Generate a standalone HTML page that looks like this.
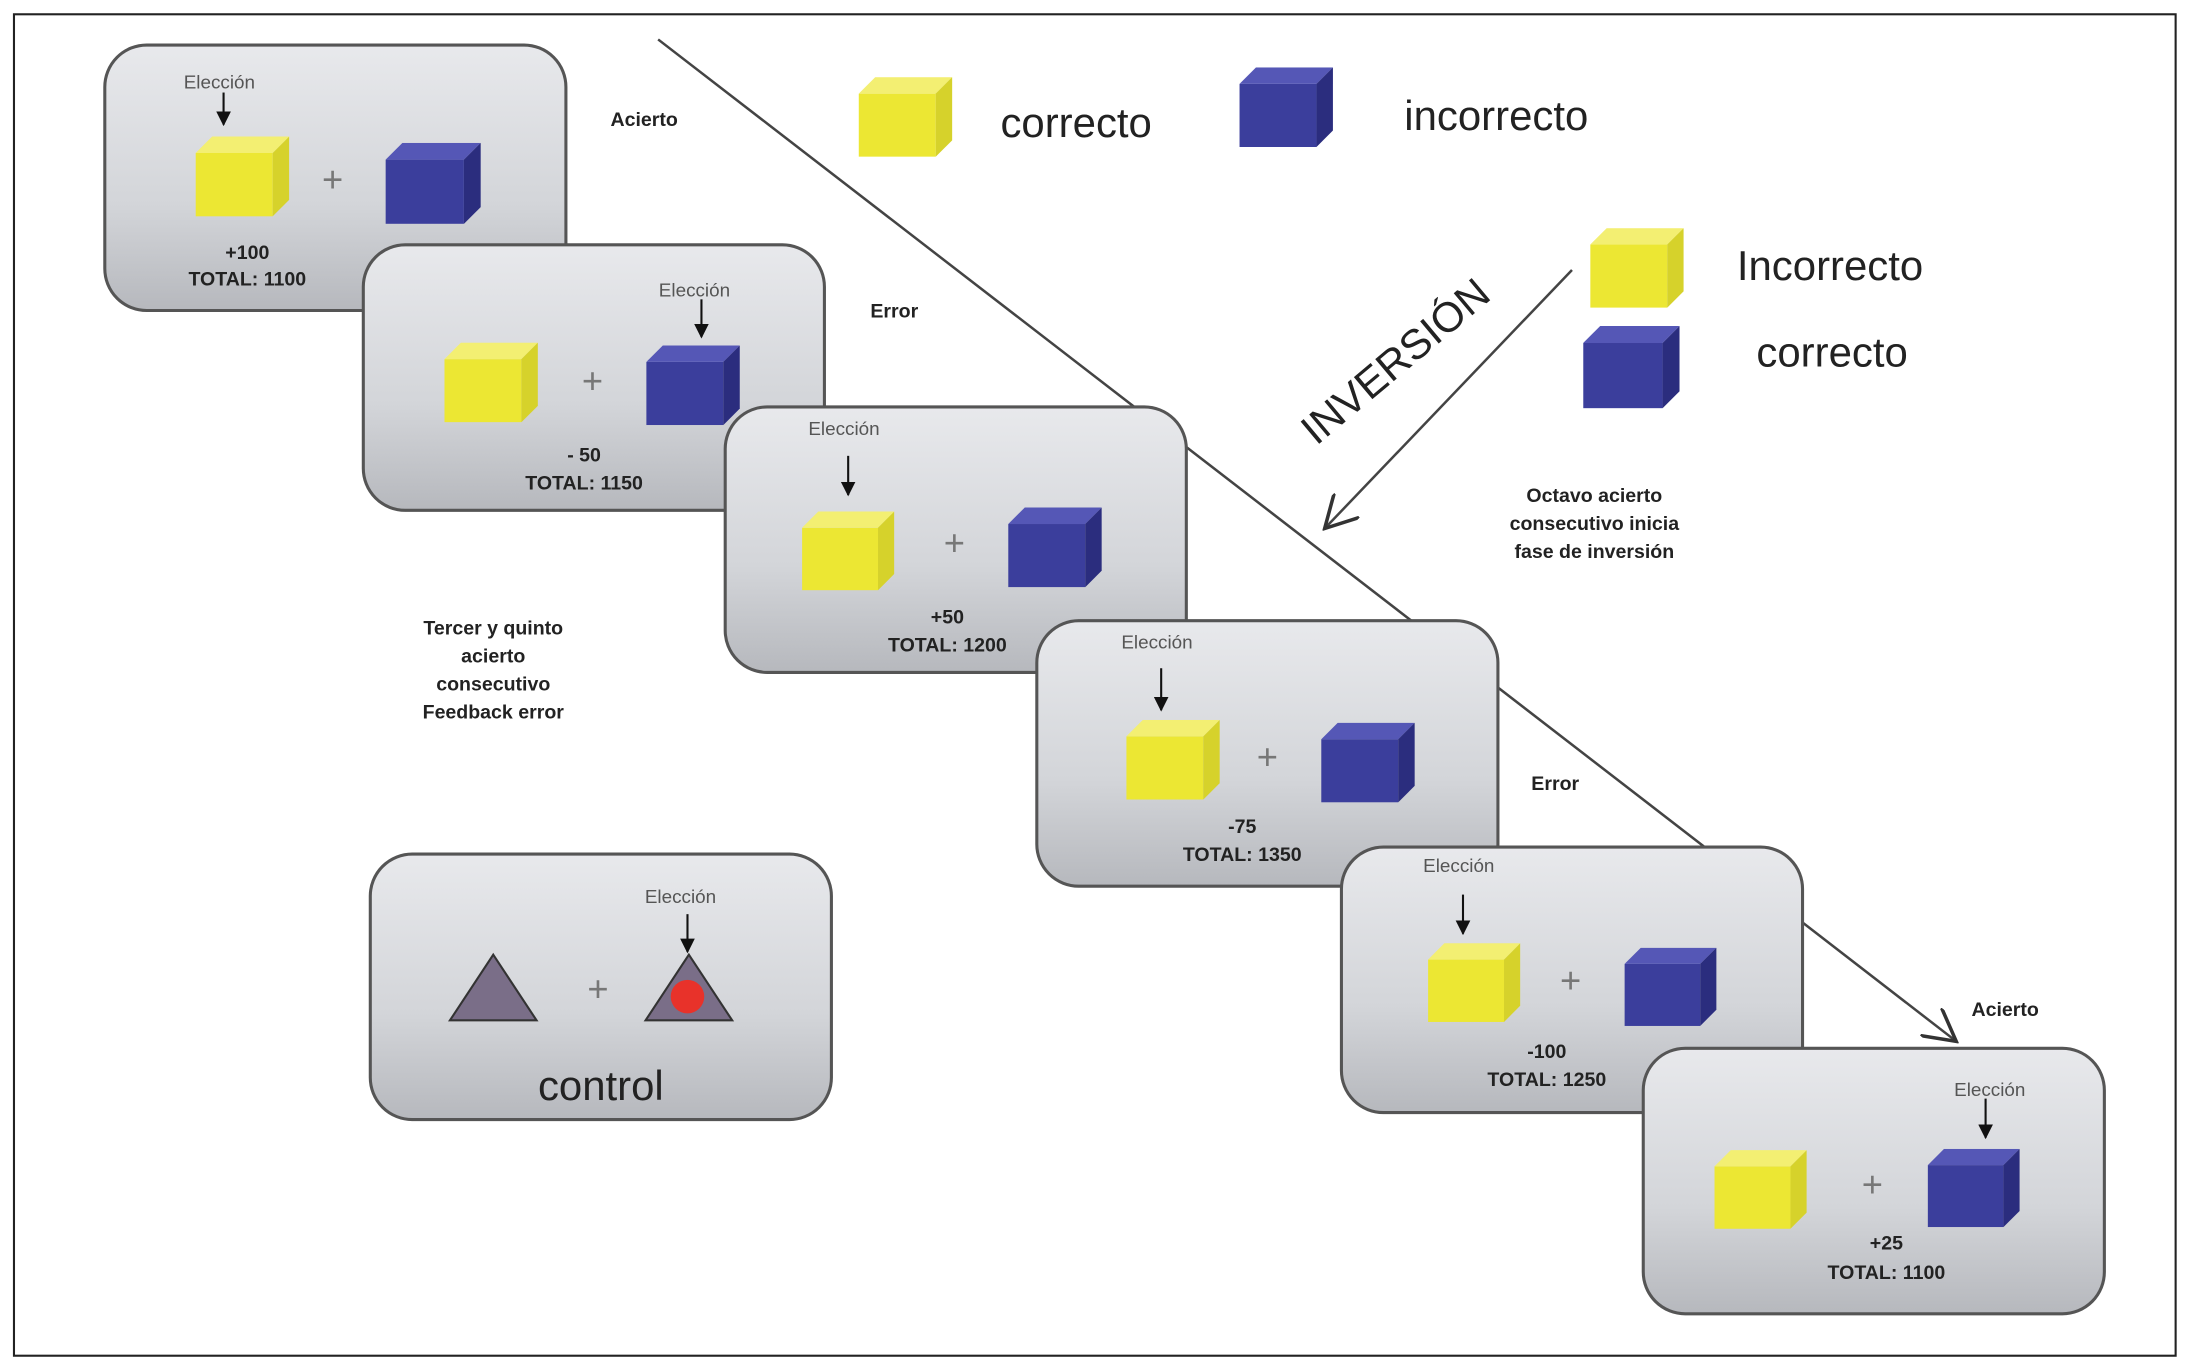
<!DOCTYPE html>
<html><head><meta charset="utf-8"><style>
html,body{margin:0;padding:0;background:#fff}
svg{display:block}
text{font-family:"Liberation Sans",Arial,sans-serif}
.b{font-weight:bold;font-size:14px;fill:#222;text-anchor:middle}
.e{font-size:13.5px;fill:#555;text-anchor:middle}
.p{font-size:26px;fill:#777;text-anchor:middle}
.big{font-size:30px;fill:#222}
</style></head><body>
<svg width="2191" height="1370" viewBox="0 0 1568 980" xmlns="http://www.w3.org/2000/svg">
<defs>
<linearGradient id="g" x1="0" y1="0" x2="0" y2="1">
<stop offset="0" stop-color="#e8e9ec"/><stop offset="0.6" stop-color="#d3d5d9"/><stop offset="1" stop-color="#b6b8bd"/></linearGradient>
<symbol id="yc" viewBox="0 0 68 58"><rect x="0" y="12" width="56" height="46" fill="#ece733"/><polygon points="0,12 12,0 68,0 56,12" fill="#f3ef72"/><polygon points="56,12 68,0 68,46 56,58" fill="#d6d22b"/></symbol>
<symbol id="bc" viewBox="0 0 68 58"><rect x="0" y="12" width="56" height="46" fill="#3b3e9c"/><polygon points="0,12 12,0 68,0 56,12" fill="#5557b6"/><polygon points="56,12 68,0 68,46 56,58" fill="#2b2d7e"/></symbol>
<marker id="ah" viewBox="0 0 10 10" refX="9" refY="5" markerWidth="7" markerHeight="7" orient="auto"><path d="M0,0 L10,5 L0,10 z" fill="#111"/></marker>
<marker id="ao" viewBox="0 0 12 12" refX="11" refY="6" markerWidth="14" markerHeight="14" orient="auto"><path d="M0,0 L11,6 L0,12" fill="none" stroke="#333" stroke-width="1.2"/></marker>
</defs>
<rect x="10" y="10" width="1547" height="960" fill="#fff" stroke="#222" stroke-width="1.5"/>
<line x1="471" y1="28" x2="1220" y2="606" stroke="#444" stroke-width="1.8"/>
<line x1="1290" y1="660" x2="1400" y2="745" stroke="#444" stroke-width="1.8" marker-end="url(#ao)"/>

<!-- box1 -->
<rect x="75" y="32" width="330" height="190" rx="30" fill="url(#g)" stroke="#555" stroke-width="2.2"/>
<text x="157" y="63" class="e">Elección</text><line x1="160" y1="66" x2="160" y2="89" stroke="#111" stroke-width="1.5" marker-end="url(#ah)"/>
<use href="#yc" x="140" y="97" width="67" height="58"/><text x="238" y="137" class="p">+</text><use href="#bc" x="275" y="102" width="70" height="58"/>
<text x="177" y="185" class="b">+100</text><text x="177" y="204" class="b">TOTAL: 1100</text>
<text x="461" y="90" class="b">Acierto</text>

<!-- box2 -->
<rect x="260" y="175" width="330" height="190" rx="30" fill="url(#g)" stroke="#555" stroke-width="2.2"/>
<text x="497" y="212" class="e">Elección</text><line x1="502" y1="214" x2="502" y2="241" stroke="#111" stroke-width="1.5" marker-end="url(#ah)"/>
<use href="#yc" x="318" y="245" width="67" height="57"/><text x="424" y="281" class="p">+</text><use href="#bc" x="462" y="247" width="68" height="57"/>
<text x="418" y="330" class="b">- 50</text><text x="418" y="350" class="b">TOTAL: 1150</text>
<text x="640" y="227" class="b">Error</text>

<!-- box3 -->
<rect x="519" y="291" width="330" height="190" rx="30" fill="url(#g)" stroke="#555" stroke-width="2.2"/>
<text x="604" y="311" class="e">Elección</text><line x1="607" y1="326" x2="607" y2="354" stroke="#111" stroke-width="1.5" marker-end="url(#ah)"/>
<use href="#yc" x="574" y="365" width="66" height="58"/><text x="683" y="397" class="p">+</text><use href="#bc" x="720" y="363" width="70" height="57"/>
<text x="678" y="446" class="b">+50</text><text x="678" y="466" class="b">TOTAL: 1200</text>

<!-- box4 -->
<rect x="742" y="444" width="330" height="190" rx="30" fill="url(#g)" stroke="#555" stroke-width="2.2"/>
<text x="828" y="464" class="e">Elección</text><line x1="831" y1="478" x2="831" y2="508" stroke="#111" stroke-width="1.5" marker-end="url(#ah)"/>
<use href="#yc" x="806" y="515" width="67" height="57"/><text x="907" y="550" class="p">+</text><use href="#bc" x="944" y="517" width="70" height="57"/>
<text x="889" y="596" class="b">-75</text><text x="889" y="616" class="b">TOTAL: 1350</text>
<text x="1113" y="565" class="b">Error</text>

<!-- box5 -->
<rect x="960" y="606" width="330" height="190" rx="30" fill="url(#g)" stroke="#555" stroke-width="2.2"/>
<text x="1044" y="624" class="e">Elección</text><line x1="1047" y1="640" x2="1047" y2="668" stroke="#111" stroke-width="1.5" marker-end="url(#ah)"/>
<use href="#yc" x="1022" y="674" width="66" height="58"/><text x="1124" y="710" class="p">+</text><use href="#bc" x="1161" y="678" width="69" height="56"/>
<text x="1107" y="757" class="b">-100</text><text x="1107" y="777" class="b">TOTAL: 1250</text>
<text x="1435" y="727" class="b">Acierto</text>

<!-- box6 -->
<rect x="1176" y="750" width="330" height="190" rx="30" fill="url(#g)" stroke="#555" stroke-width="2.2"/>
<text x="1424" y="784" class="e">Elección</text><line x1="1421" y1="786" x2="1421" y2="814" stroke="#111" stroke-width="1.5" marker-end="url(#ah)"/>
<use href="#yc" x="1227" y="822" width="66" height="58"/><text x="1340" y="856" class="p">+</text><use href="#bc" x="1378" y="822" width="69" height="56"/>
<text x="1350" y="894" class="b">+25</text><text x="1350" y="915" class="b">TOTAL: 1100</text>

<!-- control -->
<rect x="265" y="611" width="330" height="190" rx="30" fill="url(#g)" stroke="#555" stroke-width="2.2"/>
<polygon points="353,683 384,730 322,730" fill="#7a6e88" stroke="#333" stroke-width="1.5"/>
<text x="428" y="716" class="p">+</text>
<polygon points="493,683 524,730 462,730" fill="#7a6e88" stroke="#333" stroke-width="1.5"/>
<circle cx="492" cy="713" r="12" fill="#e8322a"/>
<text x="487" y="646" class="e">Elección</text><line x1="492" y1="654" x2="492" y2="681" stroke="#111" stroke-width="1.5" marker-end="url(#ah)"/>
<text x="430" y="787" class="big" text-anchor="middle">control</text>

<text class="b"><tspan x="353" y="454">Tercer y quinto</tspan><tspan x="353" y="474">acierto</tspan><tspan x="353" y="494">consecutivo</tspan><tspan x="353" y="514">Feedback error</tspan></text>

<!-- legends -->
<use href="#yc" x="614" y="55" width="68" height="57"/><text x="716" y="98" class="big">correcto</text>
<use href="#bc" x="886" y="48" width="69" height="57"/><text x="1005" y="93" class="big">incorrecto</text>
<use href="#yc" x="1138" y="163" width="67" height="57"/><text x="1243" y="200" class="big">Incorrecto</text>
<use href="#bc" x="1133" y="233" width="69" height="59"/><text x="1257" y="262" class="big">correcto</text>

<text x="1000" y="268" class="big" font-size="28" text-anchor="middle" transform="rotate(-40 1000 260)">INVERSIÓN</text>
<line x1="1125" y1="193" x2="948" y2="378" stroke="#444" stroke-width="1.8" marker-end="url(#ao)"/>
<text class="b"><tspan x="1141" y="359">Octavo acierto</tspan><tspan x="1141" y="379">consecutivo inicia</tspan><tspan x="1141" y="399">fase de inversión</tspan></text>
</svg>
</body></html>
